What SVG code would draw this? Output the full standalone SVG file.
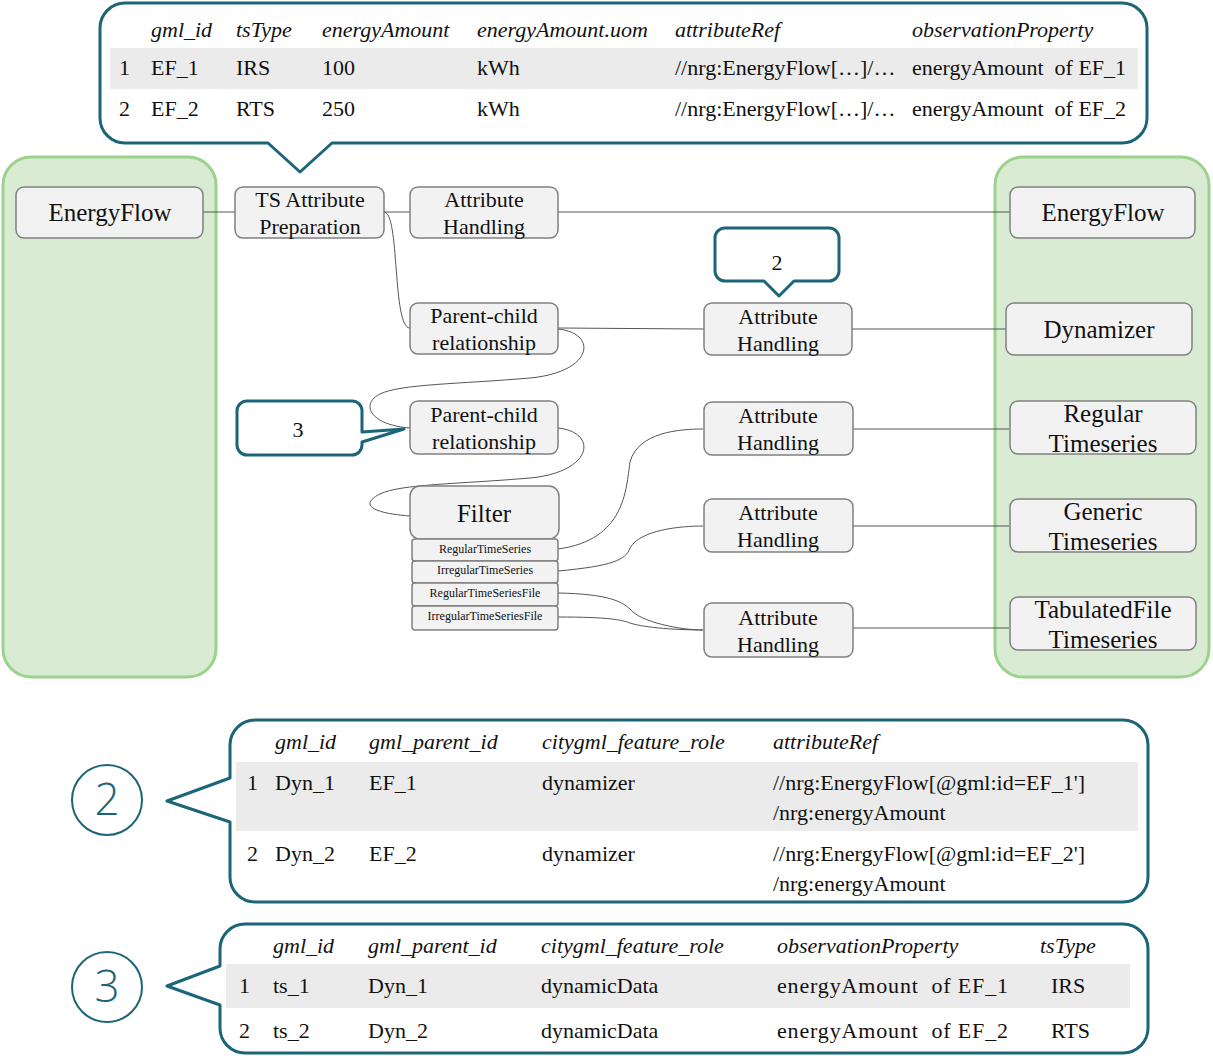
<svg xmlns="http://www.w3.org/2000/svg" width="1213" height="1056" viewBox="0 0 1213 1056">
  <style>
    .panel { fill: #d9ecd3; stroke: #9bd28c; stroke-width: 3; }
    .node rect { fill: #f2f2f2; stroke: #808080; stroke-width: 1.5; }
    .node text { font-family: "Liberation Serif", "Times New Roman", serif; fill: #111; text-anchor: middle; }
    .big { font-size: 25px; }
    .mid { font-size: 22px; }
    .small { font-size: 12px; }
    .callout { fill: #ffffff; stroke: #1c6579; stroke-width: 3; stroke-linejoin: round; }
    .tbl { font-family: "Liberation Serif", "Times New Roman", serif; font-size: 22px; fill: #111; }
    .hdr { font-style: italic; }
    .band { fill: #ebebeb; }
    .conn { fill: none; stroke: #555555; stroke-width: 1; }
    .num { font-family: "Open Sans", "Noto Sans", sans-serif; font-weight: 300; font-size: 44px; fill: #1c6579; text-anchor: middle; }
    .badge { fill: none; stroke: #1c6579; stroke-width: 2; }
  </style>

  <!-- source and target panels -->
  <rect class="panel" x="3" y="157" width="213" height="520" rx="28"/>
  <rect class="panel" x="995" y="157" width="214" height="520" rx="28"/>

  <!-- attribute table of the EnergyFlow features -->
  <g id="table-energyflow">
    <path class="callout" d="M125,3 H1122 A25,25 0 0 1 1147,28 V118 A25,25 0 0 1 1122,143 H332 L300,172 L268,143 H125 A25,25 0 0 1 100,118 V28 A25,25 0 0 1 125,3 Z"/>
    <rect class="band" x="110" y="48" width="1028" height="41"/>
    <g class="tbl hdr">
      <text x="151" y="37">gml_id</text>
      <text x="236" y="37">tsType</text>
      <text x="322" y="37">energyAmount</text>
      <text x="477" y="37">energyAmount.uom</text>
      <text x="675" y="37">attributeRef</text>
      <text x="912" y="37">observationProperty</text>
    </g>
    <g class="tbl">
      <text x="119" y="75">1</text>
      <text x="151" y="75">EF_1</text>
      <text x="236" y="75">IRS</text>
      <text x="322" y="75">100</text>
      <text x="477" y="75">kWh</text>
      <text x="675" y="75">//nrg:EnergyFlow[…]/…</text>
      <text x="912" y="75" xml:space="preserve">energyAmount  of EF_1</text>
      <text x="119" y="116">2</text>
      <text x="151" y="116">EF_2</text>
      <text x="236" y="116">RTS</text>
      <text x="322" y="116">250</text>
      <text x="477" y="116">kWh</text>
      <text x="675" y="116">//nrg:EnergyFlow[…]/…</text>
      <text x="912" y="116" xml:space="preserve">energyAmount  of EF_2</text>
    </g>
  </g>

  <!-- connectors -->
  <g id="connectors">
    <path class="conn" d="M203,212 H235"/>
    <path class="conn" d="M384,212 H410"/>
    <path class="conn" d="M558,212 H1010"/>
    <path class="conn" d="M384,212 C400,212 392,328 410,328"/>
    <path class="conn" d="M558,328 L704,329"/>
    <path class="conn" d="M852,329 H1006"/>
    <path class="conn" d="M558,329 C598,333 594,372 530,378 C460,384 400,384 380,394 C360,404 370,425 410,428"/>
    <path class="conn" d="M558,428 C598,432 594,472 530,478 C460,484 400,484 380,494 C360,504 370,513 410,516"/>
    <path class="conn" d="M558,549 C625,540 626,490 630,462 C638,432 680,429 703,429"/>
    <path class="conn" d="M558,571 C612,566 626,560 630,548 C640,530 680,526 703,526"/>
    <path class="conn" d="M558,593 C610,594 622,602 630,609 C640,622 680,630 703,630"/>
    <path class="conn" d="M558,617 C610,617 622,620 630,623 C645,628 680,630 703,630"/>
    <path class="conn" d="M853,429 H1009"/>
    <path class="conn" d="M853,526 H1009"/>
    <path class="conn" d="M853,628 H1009"/>
  </g>

  <!-- nodes -->
  <g id="n-energyflow-src" class="node">
    <rect x="16" y="187" width="187" height="51" rx="8"/>
    <text class="big" x="110" y="221">EnergyFlow</text>
  </g>
  <g id="n-ts-attr-prep" class="node">
    <rect x="235" y="187" width="149" height="51" rx="8"/>
    <text class="mid" x="310" y="207">TS Attribute</text>
    <text class="mid" x="310" y="234">Preparation</text>
  </g>
  <g id="n-attr-handling-1" class="node">
    <rect x="410" y="187" width="148" height="51" rx="8"/>
    <text class="mid" x="484" y="207">Attribute</text>
    <text class="mid" x="484" y="234">Handling</text>
  </g>
  <g id="n-energyflow-dst" class="node">
    <rect x="1010" y="187" width="185" height="51" rx="8"/>
    <text class="big" x="1103" y="221">EnergyFlow</text>
  </g>
  <g id="n-parent-child-1" class="node">
    <rect x="410" y="303" width="148" height="51" rx="8"/>
    <text class="mid" x="484" y="323">Parent-child</text>
    <text class="mid" x="484" y="350">relationship</text>
  </g>
  <g id="n-attr-handling-2" class="node">
    <rect x="704" y="303" width="148" height="52" rx="8"/>
    <text class="mid" x="778" y="324">Attribute</text>
    <text class="mid" x="778" y="351">Handling</text>
  </g>
  <g id="n-dynamizer" class="node">
    <rect x="1006" y="303" width="186" height="52" rx="8"/>
    <text class="big" x="1099" y="338">Dynamizer</text>
  </g>
  <g id="n-parent-child-2" class="node">
    <rect x="410" y="401" width="148" height="53" rx="8"/>
    <text class="mid" x="484" y="422">Parent-child</text>
    <text class="mid" x="484" y="449">relationship</text>
  </g>
  <g id="n-filter" class="node">
    <rect x="410" y="486" width="149" height="53" rx="10"/>
    <text class="big" x="484" y="522">Filter</text>
    <rect x="412" y="539" width="146" height="22" rx="3"/>
    <text class="small" x="485" y="553">RegularTimeSeries</text>
    <rect x="412" y="561" width="146" height="22" rx="3"/>
    <text class="small" x="485" y="574">IrregularTimeSeries</text>
    <rect x="412" y="583" width="146" height="23" rx="3"/>
    <text class="small" x="485" y="597">RegularTimeSeriesFile</text>
    <rect x="412" y="606" width="146" height="24" rx="3"/>
    <text class="small" x="485" y="620">IrregularTimeSeriesFile</text>
  </g>
  <g id="n-attr-handling-3" class="node">
    <rect x="704" y="402" width="149" height="53" rx="8"/>
    <text class="mid" x="778" y="423">Attribute</text>
    <text class="mid" x="778" y="450">Handling</text>
  </g>
  <g id="n-attr-handling-4" class="node">
    <rect x="704" y="499" width="149" height="53" rx="8"/>
    <text class="mid" x="778" y="520">Attribute</text>
    <text class="mid" x="778" y="547">Handling</text>
  </g>
  <g id="n-attr-handling-5" class="node">
    <rect x="704" y="603" width="149" height="54" rx="8"/>
    <text class="mid" x="778" y="625">Attribute</text>
    <text class="mid" x="778" y="652">Handling</text>
  </g>
  <g id="n-regular-ts" class="node">
    <rect x="1010" y="401" width="186" height="53" rx="8"/>
    <text class="big" x="1103" y="422">Regular</text>
    <text class="big" x="1103" y="452">Timeseries</text>
  </g>
  <g id="n-generic-ts" class="node">
    <rect x="1010" y="499" width="186" height="53" rx="8"/>
    <text class="big" x="1103" y="520">Generic</text>
    <text class="big" x="1103" y="550">Timeseries</text>
  </g>
  <g id="n-tabulated-ts" class="node">
    <rect x="1010" y="597" width="186" height="53" rx="8"/>
    <text class="big" x="1103" y="618">TabulatedFile</text>
    <text class="big" x="1103" y="648">Timeseries</text>
  </g>

  <!-- numbered markers -->
  <g id="marker-2">
    <path class="callout" d="M725,228 H829 A10,10 0 0 1 839,238 V271 A10,10 0 0 1 829,281 H794 L779,296 L764,281 H725 A10,10 0 0 1 715,271 V238 A10,10 0 0 1 725,228 Z"/>
    <text class="tbl" x="777" y="270" text-anchor="middle">2</text>
  </g>
  <g id="marker-3">
    <path class="callout" d="M247,401 H352 A10,10 0 0 1 362,411 V432 L404,429 L362,442 V445 A10,10 0 0 1 352,455 H247 A10,10 0 0 1 237,445 V411 A10,10 0 0 1 247,401 Z"/>
    <text class="tbl" x="298" y="437" text-anchor="middle">3</text>
  </g>

  <!-- table 2: dynamizers -->
  <g id="table-dynamizer">
    <circle class="badge" cx="107" cy="800" r="35"/>
    <text class="num" x="107" y="815">2</text>
    <path class="callout" d="M255,720 H1123 A25,25 0 0 1 1148,745 V877 A25,25 0 0 1 1123,902 H255 A25,25 0 0 1 230,877 V822 L167,801 L230,778 V745 A25,25 0 0 1 255,720 Z"/>
    <rect class="band" x="236" y="762" width="902" height="69"/>
    <g class="tbl hdr">
      <text x="275" y="749">gml_id</text>
      <text x="369" y="749">gml_parent_id</text>
      <text x="542" y="749">citygml_feature_role</text>
      <text x="773" y="749">attributeRef</text>
    </g>
    <g class="tbl">
      <text x="247" y="790">1</text>
      <text x="275" y="790">Dyn_1</text>
      <text x="369" y="790">EF_1</text>
      <text x="542" y="790">dynamizer</text>
      <text x="773" y="790">//nrg:EnergyFlow[@gml:id=EF_1']</text>
      <text x="773" y="820">/nrg:energyAmount</text>
      <text x="247" y="861">2</text>
      <text x="275" y="861">Dyn_2</text>
      <text x="369" y="861">EF_2</text>
      <text x="542" y="861">dynamizer</text>
      <text x="773" y="861">//nrg:EnergyFlow[@gml:id=EF_2']</text>
      <text x="773" y="891">/nrg:energyAmount</text>
    </g>
  </g>

  <!-- table 3: time series -->
  <g id="table-timeseries">
    <circle class="badge" cx="107" cy="987" r="35"/>
    <text class="num" x="107" y="1002">3</text>
    <path class="callout" d="M245,924 H1123 A25,25 0 0 1 1148,949 V1028 A25,25 0 0 1 1123,1053 H245 A25,25 0 0 1 220,1028 V1005 L167,986 L220,966 V949 A25,25 0 0 1 245,924 Z"/>
    <rect class="band" x="226" y="964" width="904" height="44"/>
    <g class="tbl hdr">
      <text x="273" y="953">gml_id</text>
      <text x="368" y="953">gml_parent_id</text>
      <text x="541" y="953">citygml_feature_role</text>
      <text x="777" y="953">observationProperty</text>
      <text x="1040" y="953">tsType</text>
    </g>
    <g class="tbl">
      <text x="239" y="993">1</text>
      <text x="273" y="993">ts_1</text>
      <text x="368" y="993">Dyn_1</text>
      <text x="541" y="993">dynamicData</text>
      <text x="777" y="993" xml:space="preserve" textLength="231">energyAmount  of EF_1</text>
      <text x="1051" y="993">IRS</text>
      <text x="239" y="1038">2</text>
      <text x="273" y="1038">ts_2</text>
      <text x="368" y="1038">Dyn_2</text>
      <text x="541" y="1038">dynamicData</text>
      <text x="777" y="1038" xml:space="preserve" textLength="231">energyAmount  of EF_2</text>
      <text x="1051" y="1038">RTS</text>
    </g>
  </g>
</svg>
